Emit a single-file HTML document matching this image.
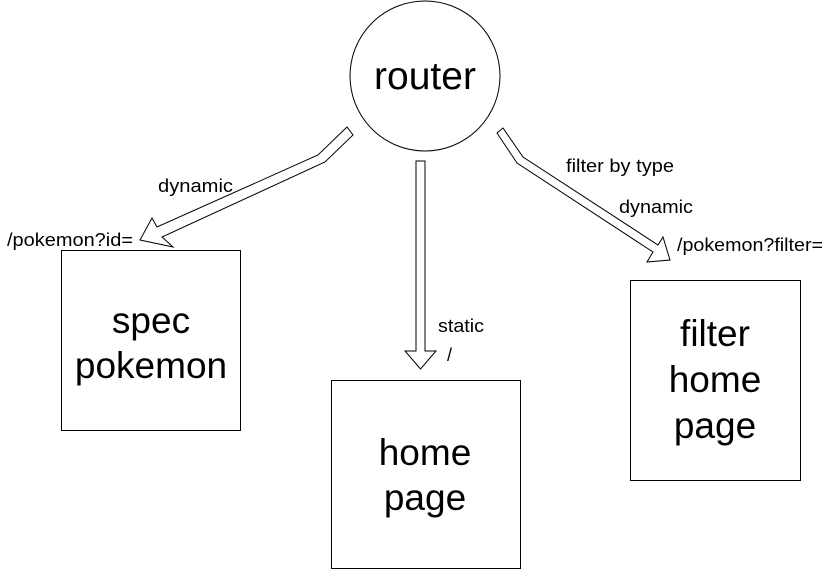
<!DOCTYPE html>
<html><head><meta charset="utf-8"><style>
html,body{margin:0;padding:0;background:#fff;width:831px;height:571px;overflow:hidden}
svg text{font-family:"Liberation Sans",Arial,sans-serif;fill:#000}
</style></head><body>
<svg width="831" height="571" viewBox="0 0 831 571" xmlns="http://www.w3.org/2000/svg">
<g fill="#fff" stroke="#000" stroke-width="1">
<circle cx="425" cy="76" r="75"/>
<rect x="61.5" y="250.5" width="179" height="180"/>
<rect x="331.5" y="380.5" width="189" height="188"/>
<rect x="630.5" y="280.5" width="170" height="200"/>
<polygon points="347,127 318,155 157,227 152,218 140,240 173,247 162,237 325,162 353,135"/>
<polygon points="503,128 523,157 658,245 663,237 670,260 647,262 653,252 517,163 497,133"/>
<polygon points="416,161 425,161 425,351 436,351 420.5,369 405,351 416,351"/>
</g>
<text x="425" y="89" font-size="39" text-anchor="middle">router</text>
<text x="151" y="333" font-size="37" text-anchor="middle">spec</text>
<text x="151" y="378" font-size="37" text-anchor="middle">pokemon</text>
<text x="425" y="465" font-size="37" text-anchor="middle">home</text>
<text x="425" y="510" font-size="37" text-anchor="middle">page</text>
<text x="715" y="346" font-size="37" text-anchor="middle">filter</text>
<text x="715" y="392" font-size="37" text-anchor="middle">home</text>
<text x="715" y="438" font-size="37" text-anchor="middle">page</text>
<g font-size="18">
<text x="158" y="192" textLength="75" lengthAdjust="spacingAndGlyphs">dynamic</text>
<text x="7" y="246" textLength="126" lengthAdjust="spacingAndGlyphs">/pokemon?id=</text>
<text x="438" y="332" textLength="46" lengthAdjust="spacingAndGlyphs">static</text>
<text x="447" y="361">/</text>
<text x="566" y="172" textLength="108" lengthAdjust="spacingAndGlyphs">filter by type</text>
<text x="619" y="213" textLength="74" lengthAdjust="spacingAndGlyphs">dynamic</text>
<text x="677" y="251" textLength="146" lengthAdjust="spacingAndGlyphs">/pokemon?filter=</text>
</g>
</svg>
</body></html>
